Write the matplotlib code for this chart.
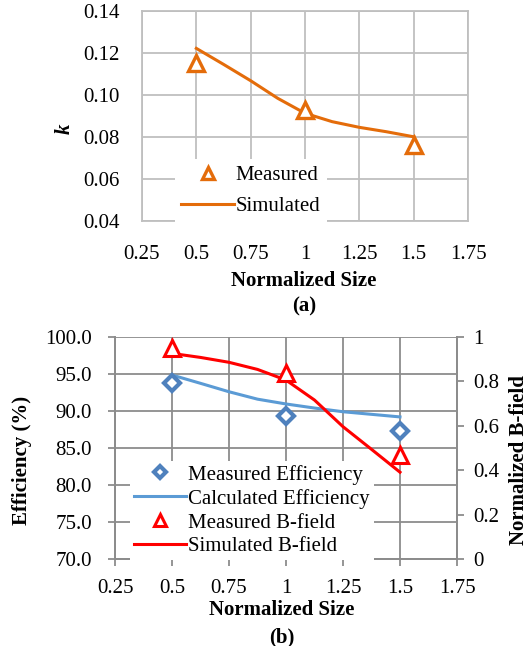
import matplotlib
matplotlib.use("Agg")
import matplotlib.pyplot as plt

plt.rcParams["font.family"] = ["Liberation Serif", "DejaVu Serif"]
plt.rcParams["font.size"] = 15

# (a) coupling coefficient k
size_meas = [0.5, 1.0, 1.5]
k_meas = [0.115, 0.093, 0.0762]
size_sim = [0.5, 0.625, 0.75, 0.875, 1.0, 1.125, 1.25, 1.375, 1.5]
k_sim = [0.1222, 0.1146, 0.1068, 0.0984, 0.0913, 0.0873, 0.0846, 0.0825, 0.0801]

# (b) efficiency and B-field
eff_meas = [93.8, 89.3, 87.35]
eff_calc = [94.86, 93.74, 92.6, 91.6, 90.95, 90.4, 89.9, 89.55, 89.2]
b_meas = [0.95, 0.84, 0.47]
b_sim = [0.926, 0.908, 0.886, 0.854, 0.806, 0.716, 0.596, 0.494, 0.391]

x_ticks = [0.25, 0.5, 0.75, 1.0, 1.25, 1.5, 1.75]
x_labels = ["0.25", "0.5", "0.75", "1", "1.25", "1.5", "1.75"]
k_ticks = [0.04, 0.06, 0.08, 0.10, 0.12, 0.14]
eff_ticks = [70, 75, 80, 85, 90, 95, 100]
b_ticks = [0, 0.2, 0.4, 0.6, 0.8, 1.0]
b_labels = ["0", "0.2", "0.4", "0.6", "0.8", "1"]

ORANGE = "#E46C0A"
BLUE_M = "#4F81BD"
BLUE_L = "#5B9BD5"
RED = "#FF0000"

W, H = 529, 646
fig = plt.figure(figsize=(W / 100, H / 100), dpi=100)


def px_axes(left, top, right, bottom):
    return fig.add_axes([left / W, 1 - bottom / H, (right - left) / W, (bottom - top) / H])


def px_text(x, y, s, **kw):
    fig.text(x / W, 1 - y / H, s, ha="center", va="center", fontweight="bold", **kw)


# ---- top panel ----
ax = px_axes(142, 11, 468, 221)
ax.plot(size_sim, k_sim, color=ORANGE, lw=2.2, label="Simulated", zorder=3)
ax.plot(size_meas, k_meas, ls="none", marker="^", ms=11.5, mew=2.4,
        mec=ORANGE, mfc="white", label="Measured", zorder=4)
ax.set_xlim(0.25, 1.75)
ax.set_ylim(0.04, 0.14)
ax.set_xticks(x_ticks)
ax.set_xticklabels(x_labels)
ax.set_yticks(k_ticks)
ax.set_yticklabels([f"{v:.2f}" for v in k_ticks])
ax.grid(True, color="#BFBFBF", lw=1.3)
ax.set_axisbelow(True)
for s in ax.spines.values():
    s.set_color("#BFBFBF")
    s.set_linewidth(1.3)
ax.tick_params(length=0)
ax.tick_params(axis="y", pad=16)
ax.tick_params(axis="x", pad=17)
h, l = ax.get_legend_handles_labels()
ax.legend(h[::-1], l[::-1], loc="upper left", bbox_to_anchor=(0.07, 0.345),
          frameon=True, fancybox=False, edgecolor="none", facecolor="white",
          framealpha=1, handlelength=2.5, handletextpad=0.1,
          labelspacing=0.55, borderpad=0.3, markerscale=0.7)
px_text(65, 129, "k", fontstyle="italic", rotation=90)
px_text(304, 281, "Normalized Size")
px_text(304, 306, "(a)")

# ---- bottom panel ----
bx = px_axes(115, 337, 457, 559)
bx2 = bx.twinx()
l_calc, = bx.plot(size_sim, eff_calc, color=BLUE_L, lw=2.2, zorder=3)
l_meff, = bx.plot(size_meas, eff_meas, ls="none", marker="D", ms=8.5, mew=3,
                  mec=BLUE_M, mfc="white", zorder=4)
l_bsim, = bx2.plot(size_sim, b_sim, color=RED, lw=2.2, zorder=3)
l_bmeas, = bx2.plot(size_meas, b_meas, ls="none", marker="^", ms=11, mew=2.2,
                    mec=RED, mfc="white", zorder=4)
bx.set_xlim(0.25, 1.75)
bx.set_ylim(70, 100)
bx2.set_ylim(0, 1)
bx.set_xticks(x_ticks)
bx.set_xticklabels(x_labels)
bx.set_yticks(eff_ticks)
bx.set_yticklabels([f"{v:.1f}" for v in eff_ticks])
bx2.set_yticks(b_ticks)
bx2.set_yticklabels(b_labels)
bx.grid(True, color="#8C8C8C", lw=1.3)
bx.set_axisbelow(True)
for a in (bx, bx2):
    for s in a.spines.values():
        s.set_color("#8C8C8C")
        s.set_linewidth(1.3)
    a.spines["top"].set_visible(False)
bx.tick_params(direction="out", length=5, width=1.3, color="#8C8C8C")
bx.tick_params(axis="y", pad=11.5)
bx.tick_params(axis="x", pad=9.5)
bx2.tick_params(direction="out", length=5, width=1.3, color="#8C8C8C", pad=6.5)
bx2.legend([l_meff, l_calc, l_bmeas, l_bsim],
           ["Measured Efficiency", "Calculated Efficiency", "Measured B-field", "Simulated B-field"],
           loc="upper left", bbox_to_anchor=(0.012, 0.49),
           frameon=True, fancybox=False, edgecolor="none", facecolor="white",
           framealpha=1, handlelength=2.5, handletextpad=0.1,
           labelspacing=0.2, borderpad=0.2, markerscale=0.75)
px_text(22, 460, "Efficiency (%)", rotation=90)
px_text(519, 460, "Normalized B-field", rotation=90)
px_text(282, 610, "Normalized Size")
px_text(282, 637, "(b)")

fig.savefig("out.png", dpi=100)
